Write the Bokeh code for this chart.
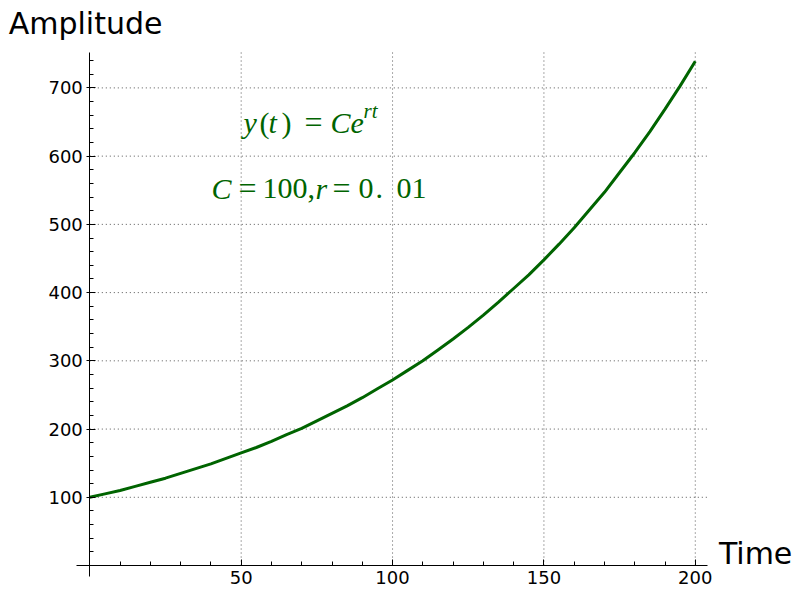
from bokeh.plotting import figure
from bokeh.models import Range1d, FixedTicker, Label, ColumnDataSource
from bokeh.embed import file_html
from bokeh.resources import INLINE

# ---- data ----
TIME = [0, 5, 10, 15, 20, 25, 30, 35, 40, 45, 50, 55, 60, 65, 70, 75, 80, 85,
        90, 95, 100, 105, 110, 115, 120, 125, 130, 135, 140, 145, 150, 155,
        160, 165, 170, 175, 180, 185, 190, 195, 200]
AMPLITUDE = [100, 105, 110, 116, 122, 128, 135, 142, 149, 157, 165, 173, 182,
             192, 201, 212, 223, 234, 246, 259, 272, 286, 300, 316, 332, 349,
             367, 386, 406, 426, 448, 471, 495, 521, 547, 576, 605, 636, 669,
             703, 739]

X_TICKS = [50, 100, 150, 200]
X_MINOR = [10, 20, 30, 40, 60, 70, 80, 90, 110, 120, 130, 140, 160, 170, 180, 190]
Y_TICKS = [100, 200, 300, 400, 500, 600, 700]
Y_MINOR = [20, 40, 60, 80, 120, 140, 160, 180, 220, 240, 260, 280, 320, 340, 360,
           380, 420, 440, 460, 480, 520, 540, 560, 580, 620, 640, 660, 680, 720, 740]

X_LABEL = "Time"
Y_LABEL = "Amplitude"

# extent of the drawn axes (data units)
X_AXIS = (-4.4, 204.1)
Y_AXIS = (-16, 752)
# the whole canvas (data units)
X_VIEW = (-29.5, 233.1)
Y_VIEW = (-36.6, 828.1)

GREEN = "#006400"
TICK_FONT = "DejaVu Sans"
MATH_FONT = "Liberation Serif"
BASE_SHIFT = 10  # px, puts the alphabetic baseline where the picture has it

p = figure(
    output_backend="svg", toolbar_location=None,
    frame_width=795, frame_height=590,
    min_border=0,
    x_range=Range1d(*X_VIEW), y_range=Range1d(*Y_VIEW),
    background_fill_color="white", border_fill_color="white",
)
p.outline_line_color = None
p.xgrid.visible = False
p.ygrid.visible = False

# ---- dotted grid, drawn from the axis out to the axis end ----
hsrc = ColumnDataSource(dict(x0=[0] * len(Y_TICKS), x1=[X_AXIS[1]] * len(Y_TICKS),
                             y0=Y_TICKS, y1=Y_TICKS))
vsrc = ColumnDataSource(dict(x0=X_TICKS, x1=X_TICKS,
                             y0=[0] * len(X_TICKS), y1=[Y_AXIS[1]] * len(X_TICKS)))
for src in (hsrc, vsrc):
    p.segment(x0="x0", y0="y0", x1="x1", y1="y1", source=src,
              line_color="#555555", line_width=1, line_dash="1 3")

# ---- curve ----
p.line(TIME, AMPLITUDE, line_color=GREEN, line_width=3)

# ---- axes crossing at the origin ----
xa = p.xaxis[0]
xa.fixed_location = 0
xa.bounds = X_AXIS
xa.ticker = FixedTicker(ticks=X_TICKS, minor_ticks=X_MINOR)
xa.major_tick_in = 6
xa.major_tick_out = 0
xa.minor_tick_in = 4
xa.minor_tick_out = 0
xa.major_label_standoff = 5

ya = p.yaxis[0]
ya.fixed_location = 0
ya.bounds = Y_AXIS
ya.ticker = FixedTicker(ticks=Y_TICKS, minor_ticks=Y_MINOR)
ya.major_tick_in = 6
ya.major_tick_out = 3
ya.minor_tick_in = 4
ya.minor_tick_out = 0
ya.major_label_standoff = 4

for ax in (xa, ya):
    ax.axis_line_color = "black"
    ax.axis_line_width = 1
    ax.major_tick_line_color = "black"
    ax.minor_tick_line_color = "black"
    ax.major_label_text_font = TICK_FONT
    ax.major_label_text_font_size = "18px"
    ax.major_label_text_color = "black"

# ---- axis titles ----
p.add_layout(Label(x=-26.8, y=779.3, y_offset=BASE_SHIFT, text=Y_LABEL,
                   text_font=TICK_FONT, text_font_size="30px", text_color="black",
                   text_align="left", text_baseline="alphabetic"))
p.add_layout(Label(x=207.8, y=2.5, y_offset=BASE_SHIFT, text=X_LABEL,
                   text_font=TICK_FONT, text_font_size="30px", text_color="black",
                   text_align="left", text_baseline="alphabetic"))

# ---- formula annotation ----
TEXT_X = 75
TEXT_Y1 = 634.6
TEXT_Y2 = 537.9
ANCHOR_PX = 316.3

line1 = [  # (left edge px in picture, text, italic, size, raise)
    (243, "y", True, 30, 0),
    (259, "(", False, 30, 0),
    (268, "t", True, 30, 0),
    (281, ")", False, 30, 0),
    (304, "=", False, 32, 0),
    (330, "Ce", True, 30, 0),
    (363, "rt", True, 21, 15),
]
line2 = [
    (211, "C", True, 30, 0),
    (238, "=", False, 32, 0),
    (262, "100,", False, 30, 0),
    (315, "r", True, 30, 0),
    (332, "=", False, 32, 0),
    (358, "0", False, 30, 0),
    (375, ".", False, 30, 0),
    (396, "01", False, 30, 0),
]
for y, pieces in ((TEXT_Y1, line1), (TEXT_Y2, line2)):
    for left, txt, ital, size, up in pieces:
        p.add_layout(Label(
            x=TEXT_X, y=y, x_offset=left - ANCHOR_PX,
            y_offset=up + BASE_SHIFT * size / 30, text=txt,
            text_font=MATH_FONT, text_font_size=f"{size}px",
            text_font_style="italic" if ital else "normal",
            text_color=GREEN, text_align="left", text_baseline="alphabetic"))

open("out.html", "w").write(file_html(p, INLINE))
